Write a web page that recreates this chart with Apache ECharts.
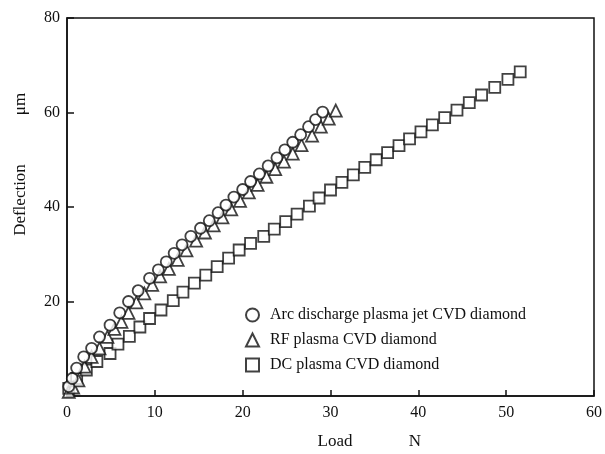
<!DOCTYPE html>
<html lang="en">

<head>
  <meta charset="UTF-8">
  <title>Deflection vs Load</title>
  <style>
    html, body { margin: 0; padding: 0; background: #fff; }
  </style>
</head>

<body>
  <div class="wrapper" style="width:605px;height:454px;"></div>

  <script src="https://cdn.jsdelivr.net/npm/echarts@6/dist/echarts.min.js"></script>
  <script>
    // values: load (N) and deflection (um)
    const arcLoad = [0.2, 0.6, 1.1, 1.9, 2.8, 3.7, 4.9, 6.0, 7.0, 8.1, 9.4, 10.4, 11.3, 12.2, 13.1, 14.1,
      15.2, 16.2, 17.2, 18.1, 19.0, 20.0, 20.9, 21.9, 22.9, 23.9, 24.8, 25.7, 26.6, 27.5, 28.3, 29.1]
    const arcDefl = [2.0, 3.7, 5.9, 8.3, 10.1, 12.5, 15.0, 17.6, 20.0, 22.3, 24.9, 26.7, 28.4, 30.2, 32.0, 33.8,
      35.5, 37.1, 38.8, 40.4, 42.1, 43.7, 45.4, 47.0, 48.7, 50.4, 52.1, 53.7, 55.3, 57.0, 58.5, 60.1]

    const rfLoad = [0.2, 0.7, 1.3, 2.0, 2.8, 3.7, 4.6, 5.4, 6.2, 7.0, 7.9, 8.8, 9.7, 10.6, 11.6, 12.6, 13.6,
      14.7, 15.7, 16.7, 17.7, 18.7, 19.7, 20.7, 21.7, 22.7, 23.7, 24.7, 25.7, 26.7, 27.9, 28.9, 29.8, 30.6]
    const rfDefl = [0.9, 1.8, 3.3, 6.2, 8.3, 10.1, 12.5, 14.2, 15.7, 17.6, 19.8, 21.7, 23.5, 25.3, 26.9, 28.8, 30.8,
      32.9, 34.6, 36.1, 37.8, 39.5, 41.3, 43.1, 44.7, 46.4, 48.0, 49.6, 51.3, 53.1, 55.1, 57.0, 58.7, 60.4]

    const dcLoad = [0.2, 1.1, 2.2, 3.4, 4.9, 5.8, 7.1, 8.3, 9.4, 10.7, 12.1, 13.2, 14.5, 15.8, 17.1, 18.4, 19.6,
      20.9, 22.4, 23.6, 24.9, 26.2, 27.6, 28.7, 30.0, 31.3, 32.6, 33.9, 35.2, 36.5, 37.8, 39.0, 40.3, 41.6,
      43.0, 44.4, 45.8, 47.2, 48.7, 50.2, 51.6]
    const dcDefl = [1.6, 3.7, 5.5, 7.3, 9.0, 11.0, 12.6, 14.6, 16.4, 18.2, 20.2, 22.0, 23.9, 25.6, 27.4, 29.2, 30.9,
      32.3, 33.8, 35.3, 36.9, 38.5, 40.2, 41.9, 43.6, 45.2, 46.8, 48.4, 50.0, 51.5, 53.0, 54.4, 55.9, 57.4,
      58.9, 60.5, 62.1, 63.7, 65.3, 67.0, 68.6]

    const seriesNames = ['Arc discharge plasma jet CVD diamond', 'RF plasma CVD diamond', 'DC plasma CVD diamond']
    const xTicks = [0, 10, 20, 30, 40, 50, 60]
    const yTicks = [20, 40, 60, 80]

    const font = 'Liberation Serif'
    const pairs = (xs, ys) => xs.map((x, i) => [x, ys[i]])
    const markerStyle = { color: '#fff', borderColor: '#111', borderWidth: 1.8 }

    const echart = echarts.init(document.querySelector('.wrapper'))
    const option = {
      animation: false,
      grid: {
        left: 67, right: 9, top: 18, bottom: 58,
        show: true, borderColor: '#111', borderWidth: 1.5
      },
      xAxis: {
        type: 'value', min: 0, max: 60, interval: 10,
        axisLine: { lineStyle: { color: '#111', width: 1.5 } },
        axisTick: { inside: true, length: 6, lineStyle: { color: '#111', width: 1.5 } },
        splitLine: { show: false },
        axisLabel: {
          margin: 9, color: '#111', fontFamily: font, fontSize: 16,
          formatter: v => xTicks.includes(v) ? String(v) : ''
        }
      },
      yAxis: {
        type: 'value', min: 0, max: 80, interval: 20,
        axisLine: { lineStyle: { color: '#111', width: 1.5 } },
        axisTick: { inside: true, length: 7, lineStyle: { color: '#111', width: 1.5 } },
        splitLine: { show: false },
        axisLabel: {
          margin: 7, color: '#111', fontFamily: font, fontSize: 16,
          formatter: v => yTicks.includes(v) ? String(v) : ''
        }
      },
      legend: {
        data: seriesNames,
        orient: 'vertical',
        left: 245, top: 307,
        padding: 0,
        itemWidth: 13, itemHeight: 13, itemGap: 9,
        textStyle: { fontFamily: font, fontSize: 16, color: '#111', padding: [0, 0, 0, 6] }
      },
      graphic: [
        { type: 'text', x: 21, y: 200, rotation: Math.PI / 2,
          style: { text: 'Deflection', font: '17px "Liberation Serif"', fill: '#111', align: 'center', verticalAlign: 'middle' } },
        { type: 'text', x: 21, y: 104, rotation: Math.PI / 2,
          style: { text: 'μm', font: '17px "Liberation Serif"', fill: '#111', align: 'center', verticalAlign: 'middle' } },
        { type: 'text', x: 335, y: 442,
          style: { text: 'Load', font: '17px "Liberation Serif"', fill: '#111', align: 'center', verticalAlign: 'middle' } },
        { type: 'text', x: 415, y: 442,
          style: { text: 'N', font: '17px "Liberation Serif"', fill: '#111', align: 'center', verticalAlign: 'middle' } }
      ],
      series: [
        {
          name: seriesNames[2], type: 'scatter', symbol: 'rect', symbolSize: 11,
          itemStyle: markerStyle, data: pairs(dcLoad, dcDefl)
        },
        {
          name: seriesNames[1], type: 'scatter', symbol: 'triangle', symbolSize: 12,
          itemStyle: markerStyle, data: pairs(rfLoad, rfDefl)
        },
        {
          name: seriesNames[0], type: 'scatter', symbol: 'circle', symbolSize: 11,
          itemStyle: markerStyle, data: pairs(arcLoad, arcDefl)
        }
      ]
    }
    echart.setOption(option)
  </script>

</body>

</html>
